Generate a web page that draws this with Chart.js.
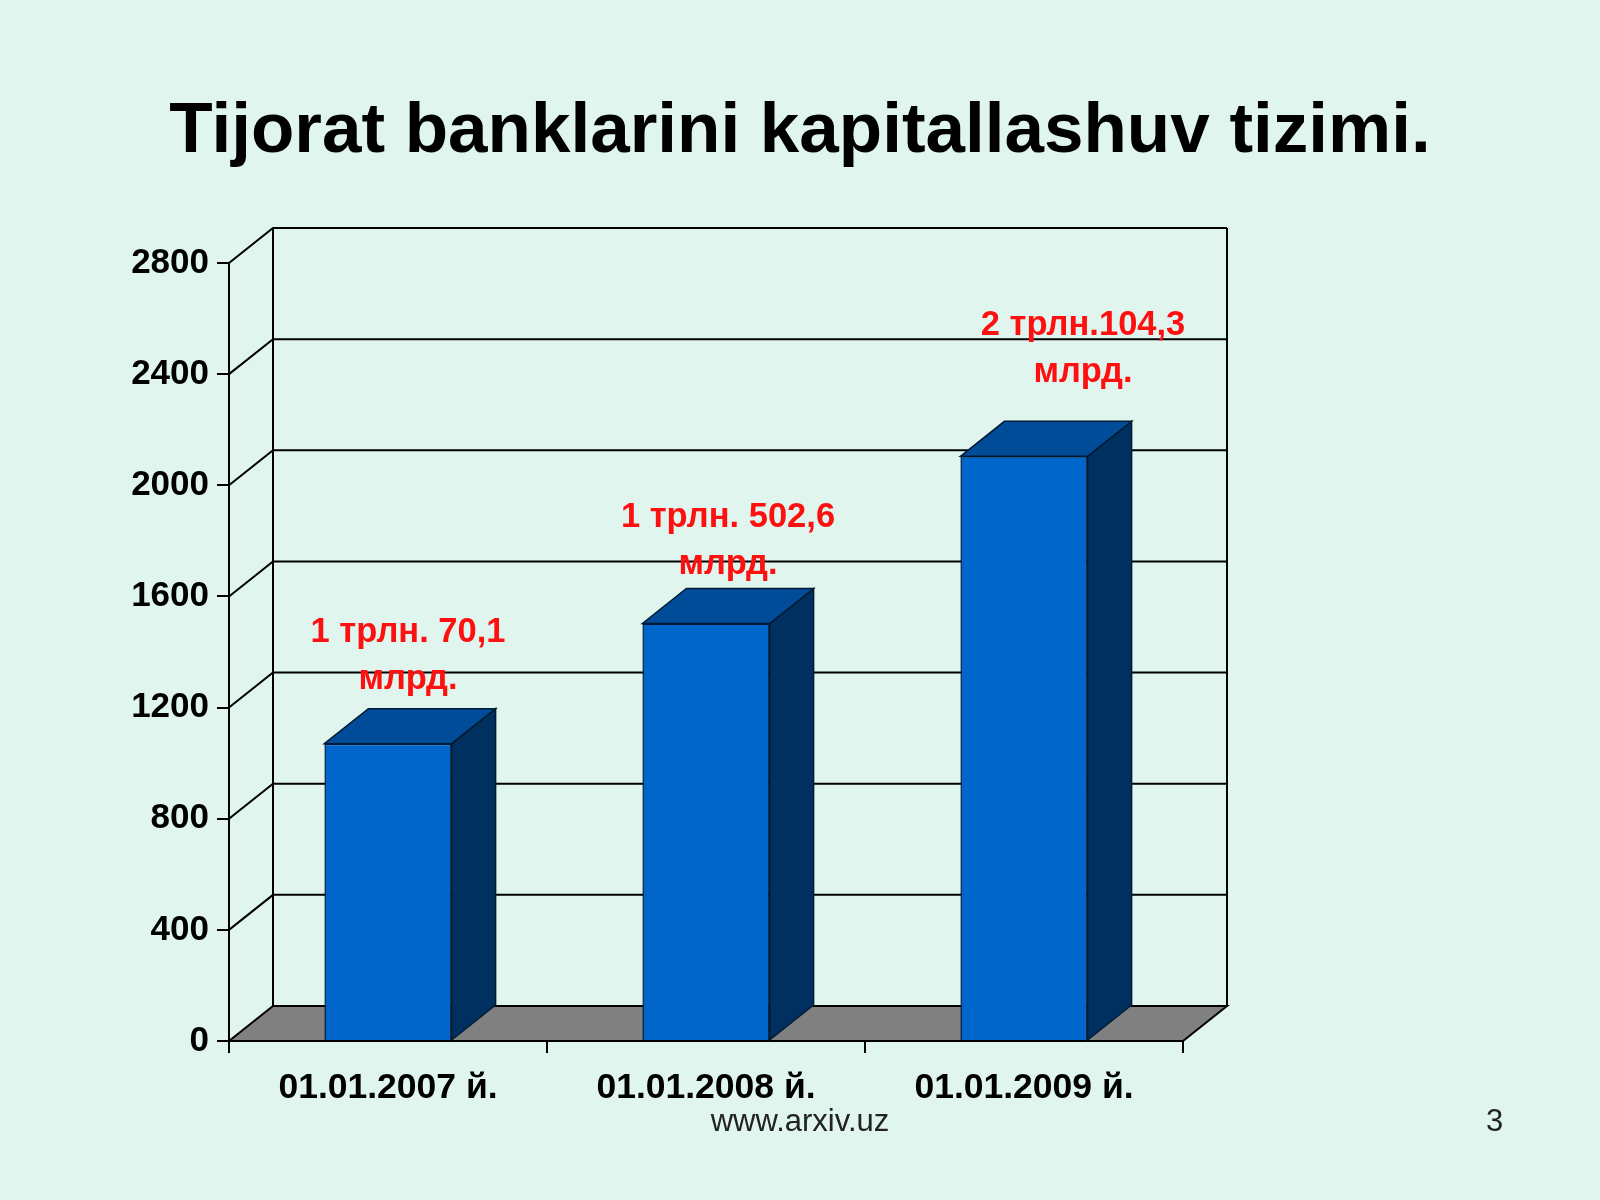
<!DOCTYPE html>
<html>
<head>
<meta charset="utf-8">
<script src="https://cdn.jsdelivr.net/npm/chart.js@4"></script>
<style>
  html, body { margin: 0; padding: 0; }
  body {
    width: 1600px; height: 1200px; position: relative; overflow: hidden;
    background: #dff5ee;
    font-family: 'Liberation Sans', Arial, sans-serif;
  }
  #wrap { position: absolute; left: 0; top: 0; width: 1600px; height: 1200px; }
  .title {
    position: absolute; left: 0; width: 1600px; top: 88px; line-height: 80px;
    text-align: center; font-size: 71px; font-weight: bold; color: #000;
  }
  .foot { position: absolute; top: 1104px; line-height: 34px; font-size: 31px; color: #222; }
</style>
</head>
<body>
<div id="wrap"><canvas id="chart"></canvas></div>
<div class="title">Tijorat banklarini kapitallashuv tizimi.</div>
<div class="foot" style="left:0;width:1600px;text-align:center;">www.arxiv.uz</div>
<div class="foot" style="left:1486px;">3</div>
<script>
// chart data
const categories = ['01.01.2007 й.', '01.01.2008 й.', '01.01.2009 й.'];
const capital = [1070.1, 1502.6, 2104.3];
const valueLabels = [
  ['1 трлн. 70,1', 'млрд.'],
  ['1 трлн. 502,6', 'млрд.'],
  ['2 трлн.104,3', 'млрд.'],
];
const yMax = 2800;
const yStep = 400;

// 3D look
const depth = { dx: 44, dy: 35 };
const colors = {
  front: '#0066cc',
  side: '#00305f',
  top: '#004c99',
  edge: '#001a33',
  floor: '#808080',
  label: '#ff1010',
};
// nudges for the red value labels: [x shift, gap above bar top]
const labelNudge = [[-2, 29], [0, 24], [37, 49]];

Chart.defaults.font.family = "'Liberation Sans', Arial, sans-serif";
Chart.defaults.color = '#000';

// back wall, side gridlines and grey floor
const wallPlugin = {
  id: 'wall3d',
  beforeDatasetsDraw(chart) {
    const { ctx, chartArea: a, scales: { y } } = chart;
    const { dx, dy } = depth;
    const y0 = y.getPixelForValue(0);
    ctx.save();
    ctx.strokeStyle = '#000';
    ctx.lineWidth = 2;

    ctx.beginPath();
    ctx.moveTo(a.left, y0);
    ctx.lineTo(a.left + dx, y0 - dy);
    ctx.lineTo(a.right + dx, y0 - dy);
    ctx.lineTo(a.right, y0);
    ctx.closePath();
    ctx.fillStyle = colors.floor;
    ctx.fill();
    ctx.stroke();

    y.ticks.forEach((t) => {
      if (t.value === 0) return;
      const py = y.getPixelForValue(t.value);
      ctx.beginPath();
      ctx.moveTo(a.left, py);
      ctx.lineTo(a.left + dx, py - dy);
      ctx.lineTo(a.right + dx, py - dy);
      ctx.stroke();
    });

    ctx.beginPath();
    ctx.moveTo(a.left + dx, y0 - dy);
    ctx.lineTo(a.left + dx, a.top - dy);
    ctx.moveTo(a.right + dx, y0 - dy);
    ctx.lineTo(a.right + dx, a.top - dy);
    ctx.moveTo(a.left, a.top);
    ctx.lineTo(a.left, y0);
    ctx.stroke();
    ctx.restore();
  },
};

// side and top faces of the bars, plus red labels
const barPlugin = {
  id: 'bar3d',
  afterDatasetsDraw(chart) {
    const { ctx } = chart;
    const { dx, dy } = depth;
    const meta = chart.getDatasetMeta(0);
    ctx.save();
    ctx.lineWidth = 1.5;
    ctx.strokeStyle = colors.edge;
    meta.data.forEach((bar, i) => {
      const { x, y, width, base } = bar.getProps(['x', 'y', 'width', 'base'], true);
      const l = x - width / 2;
      const r = x + width / 2;

      ctx.beginPath();
      ctx.moveTo(r, y);
      ctx.lineTo(r + dx, y - dy);
      ctx.lineTo(r + dx, base - dy);
      ctx.lineTo(r, base);
      ctx.closePath();
      ctx.fillStyle = colors.side;
      ctx.fill();
      ctx.stroke();

      ctx.beginPath();
      ctx.moveTo(l, y);
      ctx.lineTo(l + dx, y - dy);
      ctx.lineTo(r + dx, y - dy);
      ctx.lineTo(r, y);
      ctx.closePath();
      ctx.fillStyle = colors.top;
      ctx.fill();
      ctx.stroke();

      const [sx, gap] = labelNudge[i];
      const cx = x + dx / 2 + sx;
      const line2 = y - dy - gap;
      ctx.fillStyle = colors.label;
      ctx.font = "bold 34.5px 'Liberation Sans', Arial, sans-serif";
      ctx.textAlign = 'center';
      ctx.textBaseline = 'middle';
      ctx.fillText(valueLabels[i][0], cx, line2 - 47);
      ctx.fillText(valueLabels[i][1], cx, line2);
    });
    ctx.restore();
  },
};

new Chart(document.getElementById('chart'), {
  type: 'bar',
  data: {
    labels: categories,
    datasets: [{
      data: capital,
      backgroundColor: colors.front,
      borderColor: colors.edge,
      borderWidth: 1.5,
      barPercentage: 0.4,
      categoryPercentage: 1,
    }],
  },
  options: {
    responsive: true,
    maintainAspectRatio: false,
    animation: false,
    devicePixelRatio: 1,
    layout: { padding: { left: 0, right: 417, top: 263, bottom: 59 } },
    plugins: { legend: { display: false }, tooltip: { enabled: false } },
    scales: {
      x: {
        afterFit: (s) => { s.height = 100; },
        grid: { drawOnChartArea: false, drawTicks: true, tickLength: 12, color: '#000', lineWidth: 2, offset: true },
        border: { color: '#000', width: 2 },
        ticks: { font: { size: 35.5, weight: 'bold' }, color: '#000', padding: 14 },
      },
      y: {
        min: 0,
        max: yMax,
        afterFit: (s) => { s.width = 229; },
        grid: { drawOnChartArea: false, drawTicks: true, tickLength: 12, color: '#000', lineWidth: 2 },
        border: { color: '#000', width: 2 },
        ticks: {
          stepSize: yStep,
          font: { size: 35, weight: 'bold' },
          color: '#000',
          padding: 8,
          callback: (v) => String(v),
        },
      },
    },
  },
  plugins: [wallPlugin, barPlugin],
});
</script>
</body>
</html>
